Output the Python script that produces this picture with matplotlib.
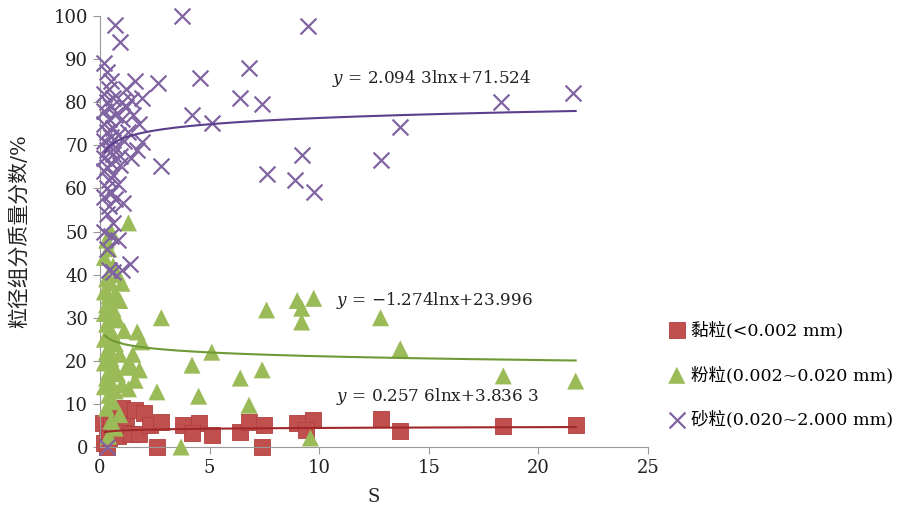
import numpy as np
import matplotlib.pyplot as plt

plt.rcParams['font.family'] = ['DejaVu Serif', 'Noto Sans CJK SC']
plt.rcParams['mathtext.fontset'] = 'dejavuserif'

# 黏粒 (clay)
clay_s = [0.15, 0.3, 0.5, 0.2, 0.7, 0.4, 0.9, 0.6, 1.1, 0.3, 1.2, 0.8, 1.4, 1.0,
          1.6, 2.0, 1.8, 2.3, 2.8, 3.8, 4.5, 5.1, 4.2, 2.6, 6.4, 6.8, 7.5, 7.4,
          9.0, 9.7, 9.4, 12.8, 13.7, 18.4, 21.7]
clay_v = [5.6, 3.0, 7.0, 1.0, 5.0, 2.0, 6.5, 8.5, 4.0, 0.0, 7.0, 2.5, 3.0, 9.0,
          8.6, 7.9, 3.0, 5.0, 5.8, 5.1, 5.6, 2.8, 3.2, 0.0, 3.5, 5.8, 5.1, 0.0,
          5.6, 6.3, 3.9, 6.5, 3.7, 4.9, 5.1]

# 粉粒 (silt)
silt_s = [0.3, 0.5, 0.4, 0.2, 0.6, 0.8, 0.3, 0.5, 1.0, 0.2, 0.7, 0.4, 0.9, 0.3,
          0.6, 0.2, 0.5, 0.8, 0.3, 0.4, 1.1, 0.6, 0.2, 0.7, 0.4, 0.3, 0.9, 0.5,
          0.2, 0.6, 1.2, 0.4, 0.8, 0.3, 0.5, 1.0, 0.2, 0.7, 0.4, 0.6, 0.3, 0.9,
          0.5, 0.7, 0.4, 1.3, 1.7, 1.9, 1.8, 1.4, 1.6, 1.3, 1.5,
          2.8, 7.6, 9.0, 9.75, 9.2, 9.2, 5.1, 4.2, 6.4, 7.4, 2.6, 4.5, 6.8,
          3.7, 9.6, 12.8, 13.7, 18.4, 21.7]
silt_v = [48, 50, 46, 44, 42, 40, 39, 38, 38, 36, 35.5, 35, 34, 33,
          32, 31, 30, 29.5, 28.5, 27, 27, 26, 25, 24, 23, 22, 21.5, 20.5,
          19.5, 18.5, 18.5, 17.5, 17, 16, 15, 14.5, 14, 13, 12, 10.5, 9, 7.5,
          6, 4.4, 2.5, 52, 26.7, 24.4, 17.9, 19, 15.5, 13.5, 21.5,
          30, 31.8, 34, 34.5, 32.2, 29, 22, 19, 16, 17.9, 12.8, 11.8, 9.7,
          0, 2.1, 30, 22.8, 16.5, 15.3]

# 砂粒 (sand)
sand_s = [0.2, 0.3, 0.5, 0.4, 0.2, 0.6, 0.3, 0.5, 0.2, 0.7, 0.4, 0.2, 0.6, 0.3,
          0.8, 0.5, 0.2, 0.4, 0.7, 0.3, 0.6, 0.2, 0.5, 0.9, 0.3, 0.2, 0.6, 0.4,
          0.8, 0.3, 0.5, 0.2, 0.7, 0.4, 1.05, 0.3, 0.6, 0.2, 0.5, 0.8, 0.3, 0.4,
          1.0, 0.6, 1.37, 0.3,
          0.9, 0.7, 1.6, 2.65, 1.2, 1.5, 1.8, 1.3, 1.0, 1.1, 1.9, 1.7, 1.4, 0.9,
          2.8, 1.2, 1.0, 1.4, 1.9,
          3.75, 9.5, 6.8, 4.55, 6.4, 7.4, 4.2, 5.1, 9.2, 7.6, 8.9, 9.75, 12.8,
          13.7, 18.3, 21.6]
sand_v = [89, 87, 85, 83, 82, 81, 80, 79, 78, 77, 76, 75, 74, 73,
          72.5, 72, 71, 70, 69.5, 69, 68, 67, 66, 65.5, 65, 64, 63, 62,
          61, 60, 59, 58, 57.5, 56, 56.6, 54, 52, 50, 49, 48, 46, 41,
          41, 40.5, 42.5, 0,
          94, 98, 85, 84.4, 79, 77, 75, 73, 80, 71, 70.8, 69, 67, 67.5,
          65.2, 83, 76, 80.5, 81,
          100, 97.7, 88, 85.6, 81, 79.6, 77, 75.2, 67.7, 63.3, 62, 59.2, 66.5,
          74.2, 80, 82.2]

# logarithmic trend lines y = a*ln(x) + b
clay_fit = (0.2576, 3.8363)
silt_fit = (-1.274, 23.996)
sand_fit = (2.0943, 71.524)

fig = plt.figure(figsize=(8.99, 5.07), dpi=100)
ax = fig.add_axes([0.1112, 0.1183, 0.6096, 0.8501])

ax.scatter(clay_s, clay_v, marker='s', s=125, color='#C0504D', edgecolors='#B0403D',
           linewidths=0.6, label='黏粒(<0.002 mm)', zorder=2, clip_on=False)
ax.scatter(silt_s, silt_v, marker='^', s=150, color='#9BBB59', edgecolors='none',
           label='粉粒(0.002~0.020 mm)', zorder=3, clip_on=False)
ax.scatter(sand_s, sand_v, marker='x', s=130, color='#8064A2', linewidths=1.6,
           label='砂粒(0.020~2.000 mm)', zorder=4, clip_on=False)

xs = np.linspace(0.23, 21.7, 300)
for (a, b), c in [(clay_fit, '#A0282A'), (silt_fit, '#6E9A35'), (sand_fit, '#5B3F8C')]:
    ax.plot(xs, a * np.log(xs) + b, color=c, lw=1.5, zorder=5)

eq_style = dict(fontsize=12.2, va='center', color='#222222')
ax.text(10.6, 85.6, r'$y$ = 2.094 3lnx+71.524', **eq_style)
ax.text(10.75, 34.1, r'$y$ = −1.274lnx+23.996', **eq_style)
ax.text(10.75, 11.8, r'$y$ = 0.257 6lnx+3.836 3', **eq_style)

ax.set_xlim(0, 25)
ax.set_ylim(0, 100)
ax.set_xticks([0, 5, 10, 15, 20, 25])
ax.set_yticks(range(0, 101, 10))
for side in ['top', 'right']:
    ax.spines[side].set_visible(False)
for side in ['left', 'bottom']:
    ax.spines[side].set_color('#999999')
ax.tick_params(colors='#999999', labelcolor='#222222', labelsize=13, length=5)
ax.set_xlabel('S', fontsize=13, labelpad=8, color='#222222')
ax.set_ylabel('粒径组分质量分数/%', fontsize=15, labelpad=18, color='#222222')

ax.legend(loc='center left', bbox_to_anchor=(1.0365, 0.167), frameon=False,
          fontsize=12.6, handlelength=1.0, handletextpad=0.3, labelspacing=1.55,
          scatterpoints=1, borderaxespad=0, borderpad=0)

fig.savefig('out.png', dpi=100)
